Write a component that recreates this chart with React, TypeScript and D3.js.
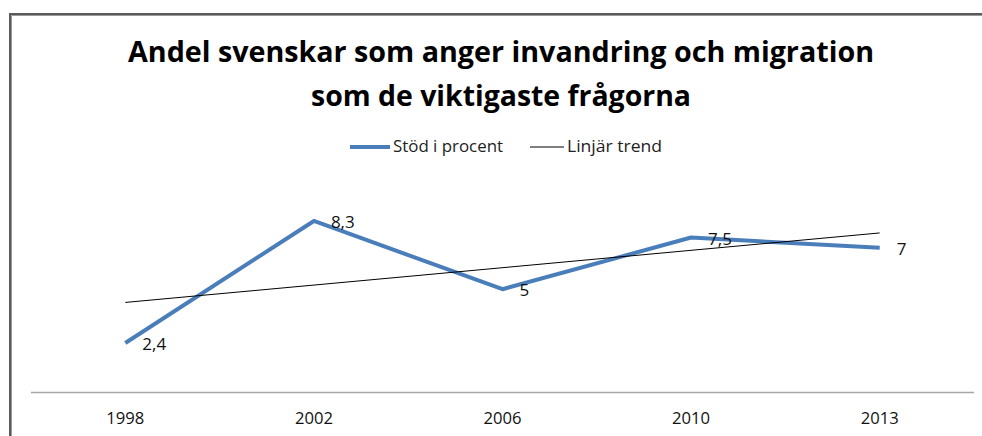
import React, { useEffect, useRef } from "react";
import * as d3 from "d3";

const years = ["1998", "2002", "2006", "2010", "2013"];
const support = [2.4, 8.3, 5, 7.5, 7];
const supportLabels = ["2,4", "8,3", "5", "7,5", "7"];
const titleLines = [
  "Andel svenskar som anger invandring och migration",
  "som de viktigaste frågorna",
];
const legendNames = ["Stöd i procent", "Linjär trend"];

export default function App() {
  const svgRef = useRef<SVGSVGElement>(null);

  useEffect(() => {
    const width = 982;
    const height = 436;
    const font = "'Open Sans', 'Liberation Sans', sans-serif";
    const svg = d3
      .select(svgRef.current)
      .attr("width", width)
      .attr("height", height)
      .style("display", "block")
      .style("overflow", "hidden")
      .style("background", "#fff");
    svg.selectAll("*").remove();

    // chart frame, cropped at right and bottom like the reference
    svg
      .append("path")
      .attr("d", `M10,${height}V14H${width}`)
      .attr("fill", "none")
      .attr("stroke", "#5a5a5a")
      .attr("stroke-width", 2);
    svg
      .append("path")
      .attr("d", `M11.5,${height}V15.5H${width}`)
      .attr("fill", "none")
      .attr("stroke", "#9a9a9a")
      .attr("stroke-width", 1);

    // title
    svg
      .append("g")
      .selectAll("text")
      .data(titleLines)
      .join("text")
      .text((d) => d)
      .attr("x", 501)
      .attr("y", (d, i) => 62 + i * 44)
      .attr("text-anchor", "middle")
      .attr("textLength", (d, i) => (i === 0 ? 746 : 380))
      .attr("lengthAdjust", "spacingAndGlyphs")
      .attr("fill", "#000")
      .style("font-family", font)
      .style("font-weight", "bold")
      .style("font-size", "29px");

    // legend
    const legend = svg.append("g");
    legend
      .append("line")
      .attr("x1", 350)
      .attr("x2", 390)
      .attr("y1", 147)
      .attr("y2", 147)
      .attr("stroke", "#4a7ebb")
      .attr("stroke-width", 4);
    legend
      .append("text")
      .text(legendNames[0])
      .attr("x", 393)
      .attr("y", 152)
      .attr("textLength", 110)
      .attr("lengthAdjust", "spacingAndGlyphs")
      .attr("fill", "#222")
      .style("font-family", font)
      .style("font-size", "16px");
    legend
      .append("line")
      .attr("x1", 530)
      .attr("x2", 564)
      .attr("y1", 147)
      .attr("y2", 147)
      .attr("stroke", "#000")
      .attr("stroke-width", 1);
    legend
      .append("text")
      .text(legendNames[1])
      .attr("x", 567)
      .attr("y", 152)
      .attr("textLength", 95)
      .attr("lengthAdjust", "spacingAndGlyphs")
      .attr("fill", "#222")
      .style("font-family", font)
      .style("font-size", "16px");

    const x = d3.scaleBand().domain(years).range([31, 974]);
    const y = d3.scaleLinear().domain([0, 10]).range([392.6, 185.8]);
    const cx = (d: string) => (x(d) as number) + x.bandwidth() / 2;

    // category axis
    svg
      .append("line")
      .attr("x1", 31)
      .attr("x2", 974)
      .attr("y1", y(0))
      .attr("y2", y(0))
      .attr("stroke", "#a6a6a6")
      .attr("stroke-width", 1.5);
    svg
      .append("g")
      .selectAll("text")
      .data(years)
      .join("text")
      .text((d) => d)
      .attr("x", (d) => cx(d))
      .attr("y", 424)
      .attr("text-anchor", "middle")
      .attr("textLength", 38)
      .attr("lengthAdjust", "spacingAndGlyphs")
      .attr("fill", "#111")
      .style("font-family", font)
      .style("font-size", "17px");

    // linear trend (least squares over category index)
    const idx = support.map((_, i) => i + 1);
    const mx = d3.mean(idx) as number;
    const my = d3.mean(support) as number;
    const slope =
      (d3.sum(idx, (v, i) => (v - mx) * (support[i] - my)) as number) /
      (d3.sum(idx, (v) => (v - mx) ** 2) as number);
    const trend = idx.map((v) => my + slope * (v - mx));

    const line = d3
      .line<number>()
      .x((d, i) => cx(years[i]))
      .y((d) => y(d));

    svg
      .append("path")
      .datum(support)
      .attr("d", line)
      .attr("fill", "none")
      .attr("stroke", "#4a7ebb")
      .attr("stroke-width", 4)
      .attr("stroke-linejoin", "round");

    svg
      .append("path")
      .datum([trend[0], trend[trend.length - 1]])
      .attr(
        "d",
        d3
          .line<number>()
          .x((d, i) => cx(years[i === 0 ? 0 : years.length - 1]))
          .y((d) => y(d))
      )
      .attr("fill", "none")
      .attr("stroke", "#000")
      .attr("stroke-width", 1);

    // data labels
    svg
      .append("g")
      .selectAll("text")
      .data(support)
      .join("text")
      .text((d, i) => supportLabels[i])
      .attr("x", (d, i) => cx(years[i]) + 17)
      .attr("y", (d) => y(d) + 7)
      .attr("fill", "#111")
      .style("font-family", font)
      .style("font-size", "17px");
  }, []);

  return (
    <div style={{ position: "fixed", left: 0, top: 0 }}>
      <svg ref={svgRef}></svg>
    </div>
  );
}
